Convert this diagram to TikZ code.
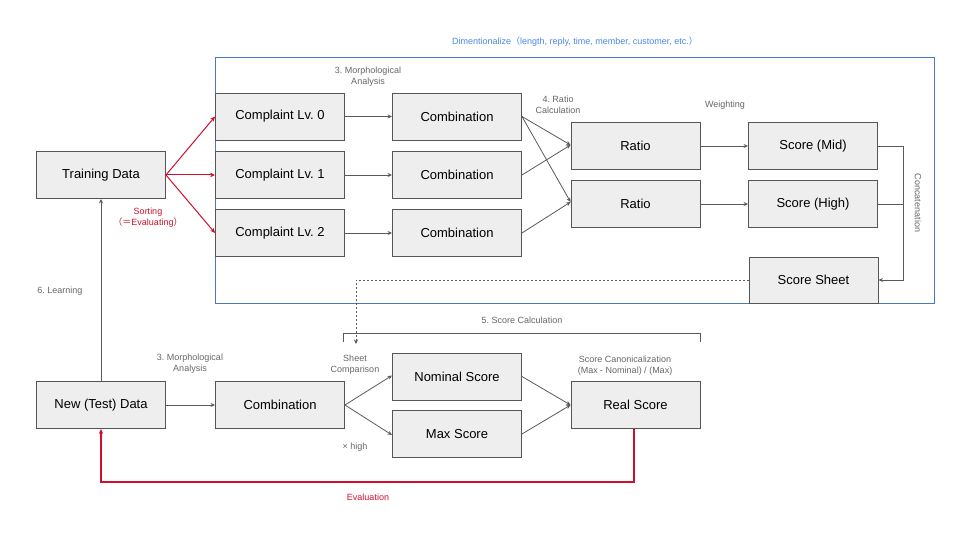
\documentclass[tikz,border=0pt]{standalone}
\usepackage{fontspec}
\setmainfont{Liberation Sans}
\newfontfamily\cjk{Noto Sans CJK SC}
\usetikzlibrary{arrows.meta}
\definecolor{boxfill}{HTML}{EEEEEE}
\definecolor{boxline}{HTML}{555555}
\definecolor{arrowgray}{HTML}{5A5A5A}
\definecolor{labelgray}{HTML}{666666}
\definecolor{myred}{HTML}{D0102A}
\definecolor{myblue}{HTML}{4A78C8}
\definecolor{bluetext}{HTML}{4A86E8}
\tikzset{
  box/.style={draw=boxline, line width=0.9pt, fill=boxfill, minimum width=129pt, minimum height=47pt, inner sep=0pt, font=\fontsize{13}{15}\selectfont},
  conn/.style={draw=arrowgray, line width=0.8pt, -{Stealth[length=4.5pt,width=4pt]}},
  redconn/.style={color=myred, draw=myred, line width=1.2pt, -{Stealth[length=5pt,width=4.5pt]}},
  lbl/.style={text=labelgray, font=\fontsize{9}{11}\selectfont, align=center, inner sep=0pt},
}
\begin{document}
\frenchspacing
\begin{tikzpicture}[x=1pt,y=-1pt]
\useasboundingbox (0,0) rectangle (960,540);
% blue frame
\draw[myblue, line width=0.8pt] (215,57) rectangle (934,303);
\node[lbl, text=bluetext] (dimlbl) at (575,42) {Dimentionalize{\cjk （}length, reply, time, member, customer, etc.{\cjk ）}};

% boxes
\node[box] (train) at (101,175) {Training Data};
\node[box] (newd) at (101,405) {New (Test) Data};
\node[box] (c0) at (280,116.5) {Complaint Lv. 0};
\node[box] (c1) at (280,175) {Complaint Lv. 1};
\node[box] (c2) at (280,233) {Complaint Lv. 2};
\node[box] (m0) at (457,116.5) {Combination};
\node[box] (m1) at (457,175) {Combination};
\node[box] (m2) at (457,233) {Combination};
\node[box] (r1) at (635.5,146) {Ratio};
\node[box] (r2) at (635.5,204) {Ratio};
\node[box] (smid) at (813,146) {Score (Mid)};
\node[box] (shigh) at (813,204) {Score (High)};
\node[box, minimum height=46pt] (sheet) at (813.5,280) {Score Sheet};
\node[box] (bm) at (280,405) {Combination};
\node[box] (nom) at (457,376.5) {Nominal Score};
\node[box] (mx) at (457,434) {Max Score};
\node[box] (real) at (635.5,405) {Real Score};

% red sorting arrows
\draw[redconn, line width=1pt] (train.east) -- (c0.west);
\draw[redconn, line width=1pt] (train.east) -- (c1.west);
\draw[redconn, line width=1pt] (train.east) -- (c2.west);

% complaint -> combination
\draw[conn] (c0) -- (m0);
\draw[conn] (c1) -- (m1);
\draw[conn] (c2) -- (m2);

% combination -> ratio
\draw[conn] (m0.east) -- ([yshift=1pt]r1.west);
\draw[conn] (m0.east) -- ([yshift=2pt]r2.west);
\draw[conn] (m1.east) -- ([yshift=1pt]r1.west);
\draw[conn] (m2.east) -- ([yshift=2pt]r2.west);

% ratio -> score
\draw[conn] (r1) -- (smid);
\draw[conn] (r2) -- (shigh);

% concatenation
\coordinate (catTop) at (903,146);
\draw[draw=arrowgray, line width=0.8pt] (shigh.east) -- (903,204);
\draw[conn] (smid.east) -- (catTop) |- (sheet.east);

% dashed to sheet comparison
\coordinate (cmp) at (356,344);
\draw[conn, dashed, dash pattern=on 2pt off 2pt, line width=0.6pt] (sheet.west) -| (cmp);

% bracket
\draw[draw=arrowgray, line width=0.8pt] (343,342) -- (343,333) -- (700,333) -- (700,342);

% bottom flow
\draw[conn] (newd) -- (bm);
\draw[conn] (bm.east) -- ([yshift=1pt]nom.west);
\draw[conn] (bm.east) -- ([yshift=-1pt]mx.west);
\draw[conn] (nom.east) -- (real.west);
\draw[conn] (mx.east) -- (real.west);

% learning
\draw[conn] (newd.north) -- (train.south);

% evaluation
\coordinate (evtop) at (634,428.5);
\coordinate (evcorner) at (634,482);
\draw[redconn] (evtop) -- (evcorner) -| (newd.south);

% labels
\node[lbl] (morph1) at (368,77) {3. Morphological\\Analysis};
\node[lbl] (ratiolbl) at (558,105) {4. Ratio\\Calculation};
\node[lbl] (weight) at (725,105) {Weighting};
\node[lbl, rotate=-90] (concat) at (918,203) {Concatenation};
\node[lbl, text=myred] (sort) at (148,218) {Sorting\\{\cjk （＝}Evaluating{\cjk ）}};
\node[lbl] (learn) at (60,291) {6. Learning};
\node[lbl] (morph2) at (190,364) {3. Morphological\\Analysis};
\node[lbl] (scorecalc) at (522,320) {5. Score Calculation};
\node[lbl] (sheetcmp) at (355,365) {Sheet\\Comparison};
\node[lbl] (high) at (355,447) {× high};
\node[lbl] (canon) at (625,366) {Score Canonicalization\\(Max - Nominal) / (Max)};
\node[lbl, text=myred] (evalbl) at (368,497) {Evaluation};
\end{tikzpicture}
\end{document}
